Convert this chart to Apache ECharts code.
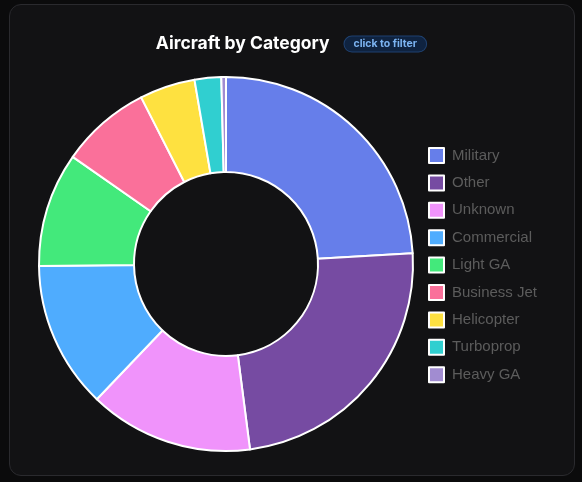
<!DOCTYPE html>
<html>
<head>
<meta charset="utf-8">
<script src="https://cdn.jsdelivr.net/npm/echarts@6/dist/echarts.min.js"></script>
<style>
  html, body { margin: 0; padding: 0; background: #0b0b0c; }
  .card {
    position: absolute; left: 9px; top: 4px; width: 564px; height: 470px;
    background: #121214; border: 1px solid #2a2a2e; border-radius: 12px;
  }
  #chart { position: absolute; left: 0; top: 0; width: 582px; height: 482px; }
</style>
</head>
<body>
<div class="card"></div>
<div id="chart"></div>
<script>
const categories = ['Military', 'Other', 'Unknown', 'Commercial', 'Light GA', 'Business Jet', 'Helicopter', 'Turboprop', 'Heavy GA'];
const counts = [241, 239, 142, 127, 99, 78, 48, 23, 4];
const colors = ['#667eea', '#764ba2', '#f093fb', '#4facfe', '#43e97b', '#fa709a', '#fee140', '#30cfd0', '#a18cd1'];

const chart = echarts.init(document.getElementById('chart'));

const option = {
    backgroundColor: 'transparent',
    animation: false,
    title: {
        text: '{t|Aircraft by Category}{b|click to filter}',
        left: 'center',
        top: 30,
        textStyle: {
            rich: {
                t: {
                    fontFamily: 'Inter',
                    fontWeight: 'bold',
                    fontSize: 17.5,
                    color: '#ffffff',
                    padding: [0, 15, 0, 0]
                },
                b: {
                    fontFamily: 'Inter',
                    fontWeight: 'bold',
                    fontSize: 10.5,
                    color: '#7cb4f2',
                    backgroundColor: '#0f2340',
                    borderColor: '#1f4170',
                    borderWidth: 1,
                    borderRadius: 8,
                    padding: [2, 9, 2, 9]
                }
            }
        }
    },
    legend: {
        orient: 'vertical',
        left: 423,
        top: 142,
        icon: 'rect',
        itemWidth: 15,
        itemHeight: 15,
        itemGap: 10.4,
        data: categories,
        itemStyle: {
            borderColor: '#ffffff',
            borderWidth: 2
        },
        textStyle: {
            color: '#5c5c5c',
            fontSize: 15,
            lineHeight: 17,
            padding: [0, 0, 0, 3],
            fontFamily: 'Liberation Sans'
        }
    },
    series: [
        {
            type: 'pie',
            center: [226, 264],
            radius: [92, 187],
            startAngle: 90,
            clockwise: true,
            label: { show: false },
            labelLine: { show: false },
            itemStyle: {
                borderColor: '#ffffff',
                borderWidth: 2
            },
            data: categories.map((name, i) => ({
                name: name,
                value: counts[i],
                itemStyle: { color: colors[i] }
            }))
        }
    ]
};

chart.setOption(option);
</script>
</body>
</html>
